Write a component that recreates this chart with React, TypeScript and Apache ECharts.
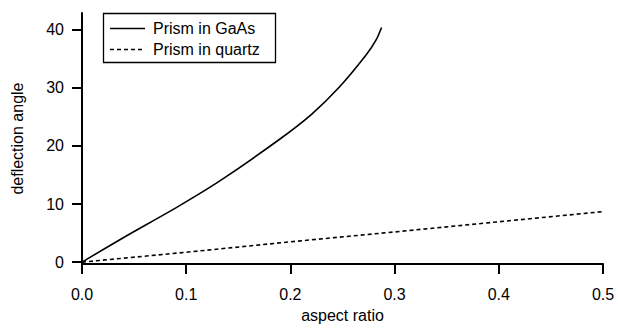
import React, { useEffect, useRef } from "react";
import * as echarts from "echarts";

const gaasX = [0, 0.04, 0.0917, 0.133, 0.19, 0.22, 0.2468, 0.2728, 0.2824, 0.2875];
const gaasY = [0, 4.25, 9.52, 14.07, 21.2, 25.4, 30.1, 35.7, 38.3, 40.4];
const quartzX = [0, 0.1, 0.2, 0.3, 0.4, 0.5];
const quartzY = [0, 1.7, 3.5, 5.2, 6.95, 8.7];
const xTicks = [0, 0.1, 0.2, 0.3, 0.4, 0.5];
const yTicks = [0, 10, 20, 30, 40];
const seriesNames = ["Prism in GaAs", "Prism in quartz"];
const xTitle = "aspect ratio";
const yTitle = "deflection angle";

const FONT = "Liberation Sans, Arial, Helvetica, sans-serif";
const FS = 16;

export default function App() {
  const ref = useRef<HTMLDivElement>(null);
  useEffect(() => {
    if (!ref.current) return;
    const chart = echarts.init(ref.current, undefined, { renderer: "svg" });
    const pair = (xs: number[], ys: number[]) => xs.map((x, i) => [x, ys[i]]);
    const axisCommon = {
      axisLine: { show: true, onZero: false, lineStyle: { color: "#000", width: 2 } },
      splitLine: { show: false },
      nameLocation: "middle",
      nameTextStyle: { fontFamily: FONT, fontSize: FS, color: "#000" },
    };
    chart.setOption({
      animation: false,
      backgroundColor: "#fff",
      textStyle: { fontFamily: FONT, color: "#000" },
      grid: { left: 82, right: 15, top: 13, bottom: 62 },
      xAxis: {
        ...axisCommon,
        type: "value",
        min: 0,
        max: 0.5,
        name: xTitle,
        nameGap: 40,
        axisTick: { show: true, length: 10, customValues: xTicks, lineStyle: { color: "#000", width: 2 } },
        axisLabel: {
          fontFamily: FONT,
          fontSize: FS,
          color: "#000",
          margin: 22,
          customValues: xTicks,
          formatter: (v: number) => v.toFixed(1),
        },
      },
      yAxis: {
        ...axisCommon,
        type: "value",
        min: -0.34,
        max: 42.9,
        name: yTitle,
        nameGap: 57,
        axisTick: { show: true, length: 10, customValues: yTicks, lineStyle: { color: "#000", width: 2 } },
        axisLabel: { fontFamily: FONT, fontSize: FS, color: "#000", margin: 18, customValues: yTicks },
      },
      graphic: [
        {
          type: "rect",
          shape: { x: 103.5, y: 13.5, width: 172, height: 49 },
          style: { fill: "#fff", stroke: "#000", lineWidth: 1.3 },
          z: 10,
        },
        {
          type: "line",
          shape: { x1: 110, y1: 28.5, x2: 145, y2: 28.5 },
          style: { stroke: "#000", lineWidth: 1.5 },
          z: 11,
        },
        {
          type: "line",
          shape: { x1: 110, y1: 49.5, x2: 145, y2: 49.5 },
          style: { stroke: "#000", lineWidth: 1.5, lineDash: [4, 3] },
          z: 11,
        },
        {
          type: "text",
          x: 153,
          y: 28.5,
          style: { text: seriesNames[0], fill: "#000", font: `${FS}px ${FONT}`, verticalAlign: "middle" },
          z: 11,
        },
        {
          type: "text",
          x: 153,
          y: 49.5,
          style: { text: seriesNames[1], fill: "#000", font: `${FS}px ${FONT}`, verticalAlign: "middle" },
          z: 11,
        },
      ],
      series: [
        {
          name: seriesNames[0],
          type: "line",
          data: pair(gaasX, gaasY),
          smooth: 0.25,
          symbol: "none",
          lineStyle: { color: "#000", width: 1.6, type: "solid" },
        },
        {
          name: seriesNames[1],
          type: "line",
          data: pair(quartzX, quartzY),
          symbol: "none",
          lineStyle: { color: "#000", width: 1.6, type: [4, 3] },
        },
      ],
    });
    return () => chart.dispose();
  }, []);
  return <div ref={ref} style={{ width: 618, height: 328, position: "absolute", left: 0, top: 0 }} />;
}
